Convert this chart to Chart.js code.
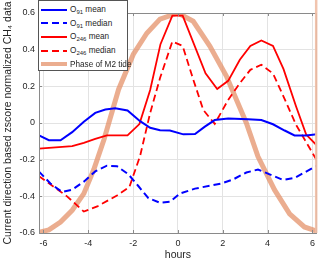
<!DOCTYPE html>
<html>
<head>
<meta charset="utf-8">
<script src="https://cdn.jsdelivr.net/npm/chart.js@4.4.1/dist/chart.umd.min.js"></script>
<style>
  html, body { margin: 0; padding: 0; background: #fff; }
  #wrap { position: relative; width: 320px; height: 261px; }
  #legend {
    position: absolute; left: 38px; top: 0px; width: 90px; height: 71px;
    background: #fff; border: 1px solid #555; box-sizing: border-box;
    font-family: "Liberation Sans", Arial, sans-serif; font-size: 8.2px; color: #262626;
    padding-top: 2px;
  }
  #legend .row { height: 13.6px; display: flex; align-items: center; white-space: nowrap; }
  #legend svg { margin-left: 2px; margin-right: 3px; flex: none; }
  #legend sub { font-size: 6px; vertical-align: -2px; line-height: 0; }
</style>
</head>
<body>
<div id="wrap">
  <canvas id="grafico" width="320" height="261"></canvas>
  <div id="legend"></div>
</div>
<script>
// valores (horas x valor normalizado)
const o91MeanHours = [-6.2, -5.76, -5.24, -4.72, -4.2, -3.69, -3.24, -2.8, -2.25, -1.69, -1.24, -0.8, -0.36, 0.24, 0.76, 1.2, 1.64, 2.24, 3.13, 3.72, 4.24, 4.76, 5.2, 5.72, 6.2];
const o91Mean = [-0.068, -0.094, -0.094, -0.05, 0.007, 0.055, 0.074, 0.08, 0.068, 0.01, -0.026, -0.04, -0.041, -0.062, -0.06, -0.02, 0.016, 0.025, 0.02, 0.016, -0.007, -0.041, -0.068, -0.068, -0.062];

const o91MedianHours = [-6.2, -5.69, -5.17, -4.72, -4.2, -3.69, -3.17, -2.72, -2.21, -1.76, -1.32, -0.8, -0.36, 0.09, 0.76, 1.94, 2.46, 3.05, 3.57, 4.09, 4.68, 5.2, 5.72, 6.2];
const o91Median = [-0.265, -0.33, -0.376, -0.364, -0.32, -0.264, -0.233, -0.236, -0.28, -0.345, -0.41, -0.435, -0.43, -0.385, -0.358, -0.33, -0.308, -0.27, -0.254, -0.28, -0.31, -0.3, -0.265, -0.233];

const o246MeanHours = [-6.2, -4.72, -4.2, -3.69, -3.17, -2.25, -1.72, -1.24, -0.78, -0.25, 0.21, 1.23, 1.75, 2.24, 2.76, 3.23, 3.72, 4.24, 4.71, 5.27, 5.72, 6.2];
const o246Mean = [-0.14, -0.126, -0.108, -0.087, -0.068, -0.068, -0.006, 0.18, 0.43, 0.586, 0.586, 0.271, 0.185, 0.23, 0.345, 0.42, 0.45, 0.42, 0.294, 0.09, -0.063, -0.123];

const o246MedianHours = [-6.2, -4.95, -4.2, -3.6, -2.72, -2.17, -1.69, -1.24, -0.8, -0.25, 0.21, 0.68, 1.13, 1.64, 2.24, 2.76, 3.23, 3.72, 4.24, 4.71, 5.27, 6.2];
const o246Median = [-0.29, -0.4, -0.483, -0.455, -0.395, -0.35, -0.18, 0.055, 0.245, 0.445, 0.42, 0.238, 0.071, -0.005, 0.126, 0.217, 0.29, 0.318, 0.27, 0.144, -0.01, -0.205];

const m2Hours = [-6.2, -5.76, -5.24, -4.72, -4.2, -3.76, -3.3, -2.65, -1.99, -1.39, -0.8, 0, 0.68, 1.42, 2.16, 3.05, 3.57, 4.31, 4.98, 5.64, 6.09, 6.2];
const m2Phase = [-0.596, -0.583, -0.54, -0.476, -0.385, -0.255, -0.09, 0.183, 0.375, 0.49, 0.567, 0.6, 0.555, 0.42, 0.256, 0, -0.183, -0.365, -0.495, -0.567, -0.585, -0.59];

const xTicks = [-6, -4, -2, 0, 2, 4, 6];
const yTicks = [-0.6, -0.4, -0.2, 0, 0.2, 0.4, 0.6];

function pontos(xs, ys) {
    return xs.map((x, i) => ({ x: x, y: ys[i] }));
}

const azul = '#0000ff';
const vermelho = '#ff0000';
const laranja = 'rgba(228,145,105,0.75)';

// legenda em html pra ter subscrito
const itensLegenda = [
    { cor: azul, dash: '', largura: 2, texto: 'O<sub>91</sub> mean' },
    { cor: azul, dash: '7,4', largura: 2, texto: 'O<sub>91</sub> median' },
    { cor: vermelho, dash: '', largura: 2, texto: 'O<sub>246</sub> mean' },
    { cor: vermelho, dash: '7,4', largura: 2, texto: 'O<sub>246</sub> median' },
    { cor: laranja, dash: '', largura: 4, texto: 'Phase of M2 tide' },
];
document.getElementById('legend').innerHTML = itensLegenda.map(it =>
    '<div class="row"><svg width="26" height="6"><line x1="0" y1="3" x2="26" y2="3" stroke="' + it.cor +
    '" stroke-width="' + it.largura + '"' + (it.dash ? ' stroke-dasharray="' + it.dash + '"' : '') +
    '/></svg><span>' + it.texto + '</span></div>').join('');

// moldura do eixo, marquinhas dos ticks e faixa clara na borda direita
const moldura = {
    id: 'moldura',
    afterDraw(chart) {
        const { ctx, chartArea, scales } = chart;
        ctx.save();
        ctx.strokeStyle = '#8a8a8a';
        ctx.lineWidth = 1;
        ctx.strokeRect(chartArea.left + 0.5, chartArea.top + 0.5, chartArea.right - chartArea.left - 1, chartArea.bottom - chartArea.top);
        ctx.beginPath();
        xTicks.forEach(v => {
            const px = Math.round(scales.x.getPixelForValue(v)) + 0.5;
            ctx.moveTo(px, chartArea.bottom); ctx.lineTo(px, chartArea.bottom - 3);
            ctx.moveTo(px, chartArea.top); ctx.lineTo(px, chartArea.top + 3);
        });
        yTicks.forEach(v => {
            const py = Math.round(scales.y.getPixelForValue(v)) + 0.5;
            ctx.moveTo(chartArea.left, py); ctx.lineTo(chartArea.left + 3, py);
        });
        ctx.stroke();
        ctx.fillStyle = 'rgba(240,190,165,0.9)';
        ctx.fillRect(chartArea.right - 2, 0, 2.5, chartArea.bottom);
        ctx.restore();
    }
};

const ctx = document.getElementById('grafico');
const fonte = '"Liberation Sans", Arial, sans-serif';

const grafico = new Chart(ctx, {
    type: 'line',
    data: {
        datasets: [
            { data: pontos(o91MeanHours, o91Mean), borderColor: azul, borderWidth: 2, order: 0 },
            { data: pontos(o91MedianHours, o91Median), borderColor: azul, borderWidth: 2, borderDash: [7, 4], order: 0 },
            { data: pontos(o246MeanHours, o246Mean), borderColor: vermelho, borderWidth: 1.8, order: 0 },
            { data: pontos(o246MedianHours, o246Median), borderColor: vermelho, borderWidth: 1.8, borderDash: [7, 4], order: 0 },
            { data: pontos(m2Hours, m2Phase), borderColor: laranja, borderWidth: 5, order: 5 },
        ]
    },
    options: {
        responsive: false,
        animation: false,
        devicePixelRatio: 1,
        elements: { point: { radius: 0 }, line: { tension: 0, fill: false } },
        layout: { padding: { top: 13, right: 3, left: 0, bottom: 0 } },
        plugins: { legend: { display: false }, tooltip: { enabled: false } },
        scales: {
            x: {
                type: 'linear',
                min: -6.2,
                max: 6.2,
                afterBuildTicks: s => { s.ticks = xTicks.map(v => ({ value: v })); },
                afterFit: s => { s.height = 28; },
                grid: { color: '#e3e3e3', drawTicks: false },
                border: { display: false },
                ticks: { color: '#262626', font: { family: fonte, size: 9 }, padding: 5, callback: v => String(v) },
                title: { display: true, text: 'hours', color: '#262626', font: { family: fonte, size: 10.5 }, padding: { top: 0, bottom: 0 } }
            },
            y: {
                min: -0.6,
                max: 0.6,
                afterBuildTicks: s => { s.ticks = yTicks.map(v => ({ value: v })); },
                afterFit: s => { s.width = 39; },
                grid: { color: '#e3e3e3', drawTicks: false },
                border: { display: false },
                ticks: { color: '#262626', font: { family: fonte, size: 9 }, padding: 4, callback: v => String(Math.round(v * 10) / 10) },
                title: { display: true, text: 'Current direction based zscore normalized CH\u2084 data', color: '#262626', font: { family: fonte, size: 10.5 }, padding: { top: 2, bottom: 0 } }
            }
        }
    },
    plugins: [moldura]
});
</script>
</body>
</html>
